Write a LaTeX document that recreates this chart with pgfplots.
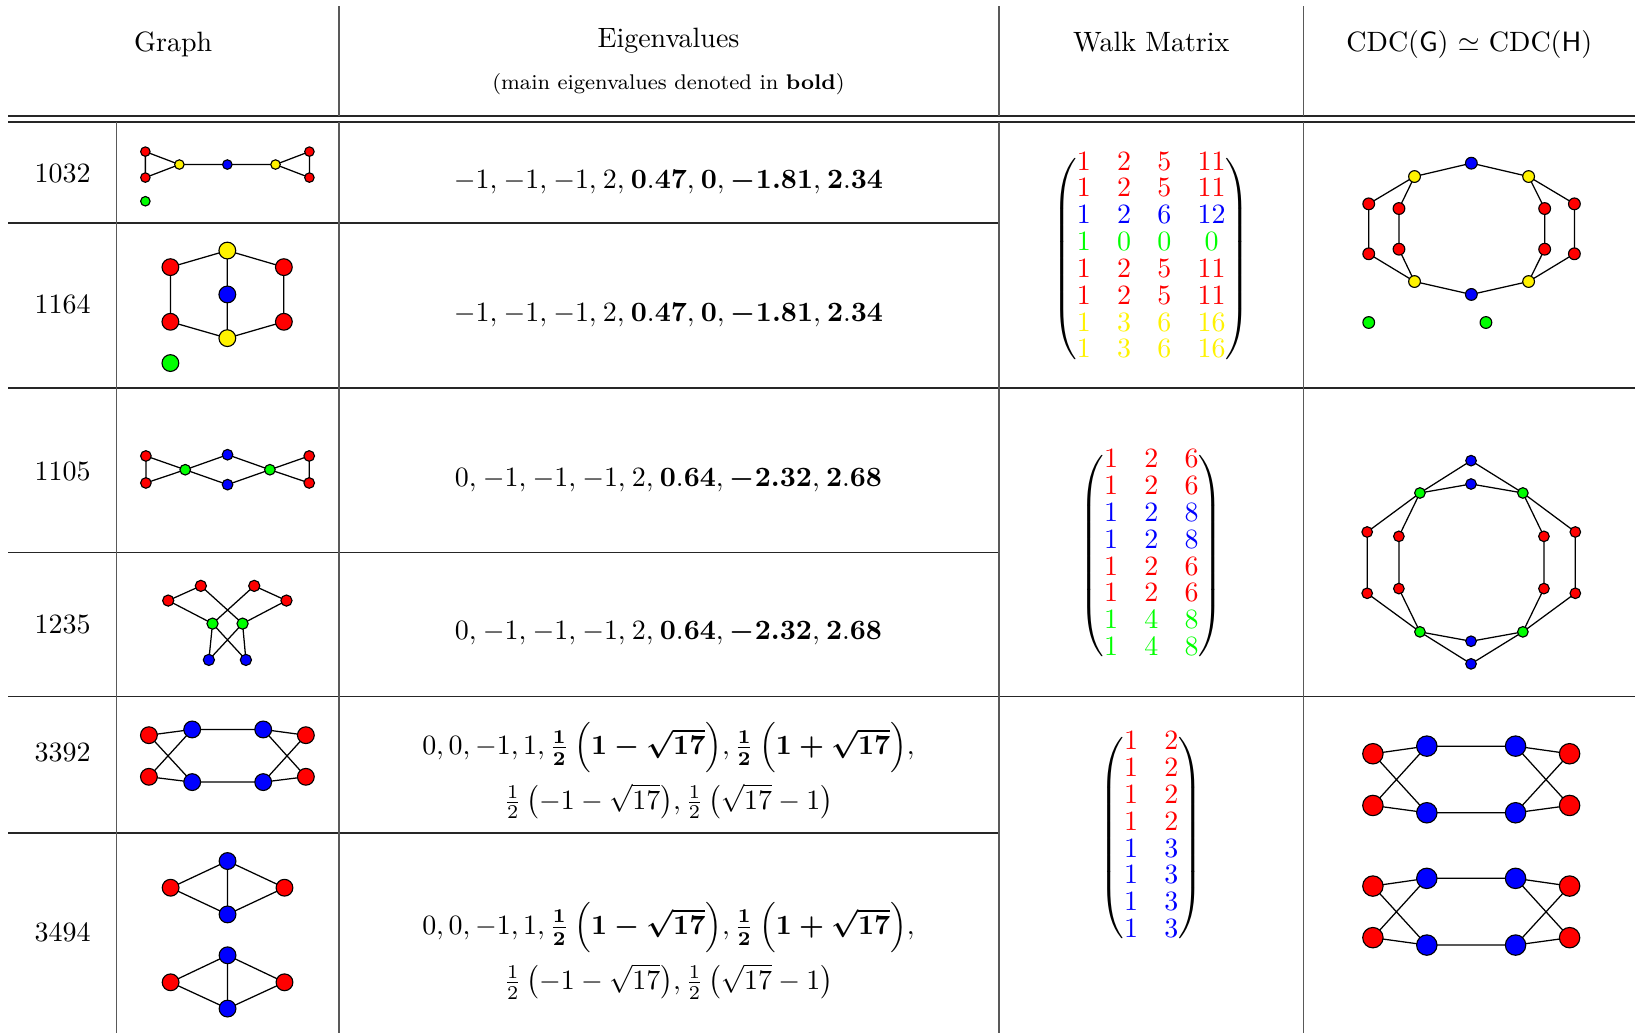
\documentclass[border=0pt]{standalone}
\usepackage{pgfplots}
\pgfplotsset{compat=1.18}
\usepackage{amsmath}

% colored walk-matrix entries
\newcommand{\wR}[1]{\textcolor{red}{#1}}
\newcommand{\wB}[1]{\textcolor{blue}{#1}}
\newcommand{\wG}[1]{\textcolor{green}{#1}}
\newcommand{\wY}[1]{\textcolor{yellow}{#1}}

\pgfplotsset{
  vtx/.style={only marks, mark=*, mark options={draw=black, line width=0.4pt, fill=#1}},
  edg/.style={black, line width=0.45pt, no markers},
}

\begin{document}
\begin{tikzpicture}
\begin{axis}[
  width=584.9pt, height=369.6pt, scale only axis,
  xmin=0, xmax=1568, ymin=0, ymax=991, y dir=reverse,
  hide axis, clip=false,
  unbounded coords=jump,
]
\path (axis cs:0,0) rectangle (axis cs:1568,991);

% ---- table rules
\draw[line width=0.6pt, black!85] (axis cs:8,111) -- (axis cs:1568,111);
\draw[line width=0.6pt, black!85] (axis cs:8,117) -- (axis cs:1568,117);
\draw[line width=0.5pt, black!85] (axis cs:8,214) -- (axis cs:958,214);
\draw[line width=0.5pt, black!85] (axis cs:8,372) -- (axis cs:1568,372);
\draw[line width=0.5pt, black!85] (axis cs:8,530) -- (axis cs:958,530);
\draw[line width=0.5pt, black!85] (axis cs:8,668) -- (axis cs:1568,668);
\draw[line width=0.5pt, black!85] (axis cs:8,799) -- (axis cs:958,799);
\draw[line width=0.5pt, black!65] (axis cs:112,117) -- (axis cs:112,991);
\pgfplotsinvokeforeach{325,958,1250}{
  \draw[line width=0.5pt, black!65] (axis cs:#1,6) -- (axis cs:#1,111);
  \draw[line width=0.5pt, black!65] (axis cs:#1,117) -- (axis cs:#1,991);
}

% ---- header
\node[anchor=base] at (axis cs:166,49.5) {Graph};
\node[anchor=base] at (axis cs:641,45.7) {Eigenvalues};
\node[anchor=base, font=\fontsize{7.6}{9}\selectfont] at (axis cs:641,86.3) {(main eigenvalues denoted in \textbf{bold})};
\node[anchor=base] at (axis cs:1104,49.5) {Walk Matrix};
\node[anchor=base] at (axis cs:1409,49.5) {CDC(\textsf{G}) $\simeq$ CDC(\textsf{H})};

% ---- graph ids
\node[anchor=base] at (axis cs:60,175) {1032};
\node[anchor=base] at (axis cs:60,300.3) {1164};
\node[anchor=base] at (axis cs:60,460.7) {1105};
\node[anchor=base] at (axis cs:60,608) {1235};
\node[anchor=base] at (axis cs:60,730) {3392};
\node[anchor=base] at (axis cs:60,902.5) {3494};

% ---- eigenvalues
\node[anchor=base] at (axis cs:641,180.5) {$\thinmuskip=4mu -1, -1, -1, 2, \mathbf{0.47}, \mathbf{0}, \boldsymbol{-1.81}, \mathbf{2.34}$};
\node[anchor=base] at (axis cs:641,308.5) {$\thinmuskip=4mu -1, -1, -1, 2, \mathbf{0.47}, \mathbf{0}, \boldsymbol{-1.81}, \mathbf{2.34}$};
\node[anchor=base] at (axis cs:641,466.5) {$\thinmuskip=4mu 0, -1, -1, -1, 2, \mathbf{0.64}, \boldsymbol{-2.32}, \mathbf{2.68}$};
\node[anchor=base] at (axis cs:641,613.5) {$\thinmuskip=4mu 0, -1, -1, -1, 2, \mathbf{0.64}, \boldsymbol{-2.32}, \mathbf{2.68}$};
\node[anchor=base] at (axis cs:641,724) {$0, 0, -1, 1, \boldsymbol{\frac{1}{2}\left(1-\sqrt{17}\right)}, \boldsymbol{\frac{1}{2}\left(1+\sqrt{17}\right)},$};
\node[anchor=base] at (axis cs:641,776) {$\frac{1}{2}\,{\left(-1-\sqrt{17}\right)}, \frac{1}{2}\,{\left(\sqrt{17}-1\right)}$};
\node[anchor=base] at (axis cs:641,896.5) {$0, 0, -1, 1, \boldsymbol{\frac{1}{2}\left(1-\sqrt{17}\right)}, \boldsymbol{\frac{1}{2}\left(1+\sqrt{17}\right)},$};
\node[anchor=base] at (axis cs:641,949) {$\frac{1}{2}\,{\left(-1-\sqrt{17}\right)}, \frac{1}{2}\,{\left(\sqrt{17}-1\right)}$};

% ---- walk matrices
\node at (axis cs:1104,248) {\renewcommand{\arraystretch}{0.8}\setlength{\arraycolsep}{4.7pt}$\begin{pmatrix}
\wR{1} & \wR{2} & \wR{5} & \wR{11}\\
\wR{1} & \wR{2} & \wR{5} & \wR{11}\\
\wB{1} & \wB{2} & \wB{6} & \wB{12}\\
\wG{1} & \wG{0} & \wG{0} & \wG{0}\\
\wR{1} & \wR{2} & \wR{5} & \wR{11}\\
\wR{1} & \wR{2} & \wR{5} & \wR{11}\\
\wY{1} & \wY{3} & \wY{6} & \wY{16}\\
\wY{1} & \wY{3} & \wY{6} & \wY{16}
\end{pmatrix}$};
\node at (axis cs:1104,533.5) {\renewcommand{\arraystretch}{0.8}\setlength{\arraycolsep}{4.7pt}$\begin{pmatrix}
\wR{1} & \wR{2} & \wR{6}\\
\wR{1} & \wR{2} & \wR{6}\\
\wB{1} & \wB{2} & \wB{8}\\
\wB{1} & \wB{2} & \wB{8}\\
\wR{1} & \wR{2} & \wR{6}\\
\wR{1} & \wR{2} & \wR{6}\\
\wG{1} & \wG{4} & \wG{8}\\
\wG{1} & \wG{4} & \wG{8}
\end{pmatrix}$};
\node at (axis cs:1104,804) {\renewcommand{\arraystretch}{0.8}\setlength{\arraycolsep}{4.7pt}$\begin{pmatrix}
\wR{1} & \wR{2}\\
\wR{1} & \wR{2}\\
\wR{1} & \wR{2}\\
\wR{1} & \wR{2}\\
\wB{1} & \wB{3}\\
\wB{1} & \wB{3}\\
\wB{1} & \wB{3}\\
\wB{1} & \wB{3}
\end{pmatrix}$};

% ================= graph 1032
\addplot[edg] coordinates {(139.4,145.4) (139.4,170.3) (172,157.8) (139.4,145.4) (0,nan)
  (172,157.8) (264.2,157.8) (296.7,145.4) (296.7,170.3) (264.2,157.8)};
\addplot[vtx=red, mark size=1.7pt] coordinates {(139.4,145.4) (139.4,170.3) (296.7,145.4) (296.7,170.3)};
\addplot[vtx=yellow, mark size=1.7pt] coordinates {(172,157.8) (264.2,157.8)};
\addplot[vtx=blue, mark size=1.7pt] coordinates {(218,157.8)};
\addplot[vtx=green, mark size=1.7pt] coordinates {(139.4,193)};

% ================= graph 1164
\addplot[edg] coordinates {(218,240.3) (163.4,256.2) (163.4,308.6) (218,324.3) (272.2,308.6) (272.2,256.2) (218,240.3) (218,324.3)};
\addplot[vtx=red, mark size=3pt] coordinates {(163.4,256.2) (272.2,256.2) (163.4,308.6) (272.2,308.6)};
\addplot[vtx=yellow, mark size=3pt] coordinates {(218,240.3) (218,324.3)};
\addplot[vtx=blue, mark size=3pt] coordinates {(218,282.4)};
\addplot[vtx=green, mark size=3pt] coordinates {(163.4,348.2)};

% ================= CDC of 1032 / 1164
\addplot[edg] coordinates {(1410.9,156.5) (1356.4,169.3) (1312.5,195.5) (1312.5,243.4) (1356.4,270) (1410.9,282.4)
  (1465.8,270) (1509.7,243.4) (1509.7,195.5) (1465.8,169.3) (1410.9,156.5) (0,nan)
  (1356.4,169.3) (1341.5,200) (1341.5,239) (1356.4,270) (0,nan)
  (1465.8,169.3) (1481.2,200) (1481.2,239) (1465.8,270)};
\addplot[vtx=red, mark size=2.1pt] coordinates {(1312.5,195.5) (1509.7,195.5) (1312.5,243.4) (1509.7,243.4)
  (1341.5,200) (1481.2,200) (1341.5,239) (1481.2,239)};
\addplot[vtx=yellow, mark size=2.1pt] coordinates {(1356.4,169.3) (1465.8,169.3) (1356.4,270) (1465.8,270)};
\addplot[vtx=blue, mark size=2.1pt] coordinates {(1410.9,156.5) (1410.9,282.4)};
\addplot[vtx=green, mark size=2.1pt] coordinates {(1312.5,309.3) (1424.9,309.3)};

% ================= graph 1105
\addplot[edg] coordinates {(139.9,437.3) (139.9,463.2) (177.6,450.5) (139.9,437.3) (0,nan)
  (177.6,450.5) (218.2,436.1) (258.8,450.5) (218.2,464.8) (177.6,450.5) (0,nan)
  (258.8,450.5) (296.5,437.3) (296.5,463.2) (258.8,450.5)};
\addplot[vtx=red, mark size=1.9pt] coordinates {(139.9,437.3) (139.9,463.2) (296.5,437.3) (296.5,463.2)};
\addplot[vtx=green, mark size=1.9pt] coordinates {(177.6,450.5) (258.8,450.5)};
\addplot[vtx=blue, mark size=1.9pt] coordinates {(218.2,436.1) (218.2,464.8)};

% ================= graph 1235
\addplot[edg] coordinates {(232.6,598.1) (192.6,561.9) (161.3,576) (203.8,598.1) (243.8,561.9) (274.7,576)
  (232.6,598.1) (200.3,632.9) (203.8,598.1) (235.8,632.9) (232.6,598.1)};
\addplot[vtx=red, mark size=2pt] coordinates {(161.3,576) (192.6,561.9) (243.8,561.9) (274.7,576)};
\addplot[vtx=green, mark size=2pt] coordinates {(203.8,598.1) (232.6,598.1)};
\addplot[vtx=blue, mark size=2pt] coordinates {(200.3,632.9) (235.8,632.9)};

% ================= CDC of 1105 / 1235
\addplot[edg] coordinates {(1410.6,441.8) (1361.6,472.8) (1311,510.2) (1311,569) (1361.6,606) (1410.6,636.7)
  (1460.3,606) (1510.6,569) (1510.6,510.2) (1460.3,472.8) (1410.6,441.8) (0,nan)
  (1361.6,472.8) (1410.6,464.2) (1460.3,472.8) (1480.5,514.4) (1480.5,564.5) (1460.3,606)
  (1410.6,615) (1361.6,606) (1341.4,564.5) (1341.4,514.4) (1361.6,472.8)};
\addplot[vtx=red, mark size=1.9pt] coordinates {(1311,510.2) (1510.6,510.2) (1311,569) (1510.6,569)
  (1341.4,514.4) (1480.5,514.4) (1341.4,564.5) (1480.5,564.5)};
\addplot[vtx=green, mark size=1.9pt] coordinates {(1361.6,472.8) (1460.3,472.8) (1361.6,606) (1460.3,606)};
\addplot[vtx=blue, mark size=1.9pt] coordinates {(1410.6,441.8) (1410.6,464.2) (1410.6,615) (1410.6,636.7)};

% ================= graph 3392
\addplot[edg] coordinates {(142.8,705.1) (184.3,699.6) (252.4,699.6) (293.3,705.1) (252.4,750.1) (184.3,750.1)
  (142.8,745) (184.3,699.6) (0,nan) (142.8,705.1) (184.3,750.1) (0,nan) (252.4,699.6) (293.3,745) (252.4,750.1)};
\addplot[vtx=red, mark size=3pt] coordinates {(142.8,705.1) (142.8,745) (293.3,705.1) (293.3,745)};
\addplot[vtx=blue, mark size=3pt] coordinates {(184.3,699.6) (184.3,750.1) (252.4,699.6) (252.4,750.1)};

% ================= graph 3494
\addplot[edg] coordinates {(163.6,851.4) (218.2,825.8) (272.8,851.4) (218.2,877) (163.6,851.4) (0,nan)
  (218.2,825.8) (218.2,877) (0,nan)
  (163.6,942.1) (218.2,916.2) (272.8,942.1) (218.2,967.3) (163.6,942.1) (0,nan)
  (218.2,916.2) (218.2,967.3)};
\addplot[vtx=red, mark size=3pt] coordinates {(163.6,851.4) (272.8,851.4) (163.6,942.1) (272.8,942.1)};
\addplot[vtx=blue, mark size=3pt] coordinates {(218.2,825.8) (218.2,877) (218.2,916.2) (218.2,967.3)};

% ================= CDC of 3392 / 3494
\addplot[edg] coordinates {(1316.5,722.9) (1368.2,715.6) (1453.3,715.6) (1505.1,722.9) (1453.3,779.5) (1368.2,779.5)
  (1316.5,772.5) (1368.2,715.6) (0,nan) (1316.5,722.9) (1368.2,779.5) (0,nan) (1453.3,715.6) (1505.1,772.5) (1453.3,779.5) (0,nan)
  (1316.5,849.8) (1368.2,842.4) (1453.3,842.4) (1505.1,849.8) (1453.3,906.4) (1368.2,906.4)
  (1316.5,899.3) (1368.2,842.4) (0,nan) (1316.5,849.8) (1368.2,906.4) (0,nan) (1453.3,842.4) (1505.1,899.3) (1453.3,906.4)};
\addplot[vtx=red, mark size=3.65pt] coordinates {(1316.5,722.9) (1316.5,772.5) (1505.1,722.9) (1505.1,772.5)
  (1316.5,849.8) (1316.5,899.3) (1505.1,849.8) (1505.1,899.3)};
\addplot[vtx=blue, mark size=3.65pt] coordinates {(1368.2,715.6) (1368.2,779.5) (1453.3,715.6) (1453.3,779.5)
  (1368.2,842.4) (1368.2,906.4) (1453.3,842.4) (1453.3,906.4)};

\end{axis}
\end{tikzpicture}
\end{document}
